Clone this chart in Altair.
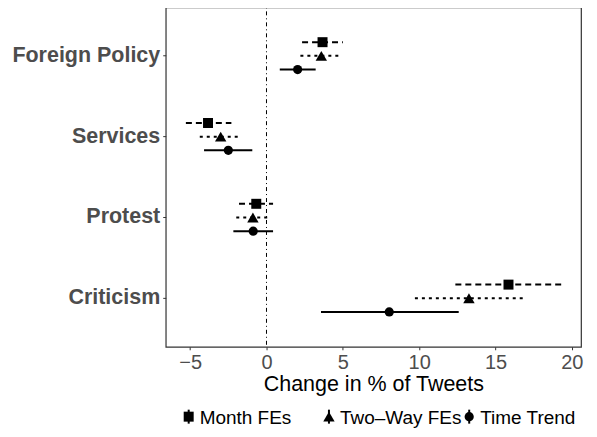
import pandas as pd
import altair as alt

# ── data ─────────────────────────────────────────────────────────────────────

TOPICS = ["Foreign Policy", "Services", "Protest", "Criticism"]
MODELS = ["Month FEs", "Two–Way FEs", "Time Trend"]

MONTH_EST = [3.67, -3.83, -0.67, 15.85]
MONTH_LO  = [2.33, -5.28, -1.80, 12.37]
MONTH_HI  = [5.00, -2.30, 0.43, 19.44]

TWOWAY_EST = [3.59, -3.00, -0.89, 13.26]
TWOWAY_LO  = [2.22, -4.37, -1.98, 9.72]
TWOWAY_HI  = [4.93, -1.63, 0.20, 16.83]

TREND_EST = [2.04, -2.50, -0.87, 8.04]
TREND_LO  = [0.87, -4.09, -2.17, 3.57]
TREND_HI  = [3.22, -0.93, 0.43, 12.59]

X_TICKS = [-5, 0, 5, 10, 15, 20]

# ── style ────────────────────────────────────────────────────────────────────

FONT       = "Liberation Sans"
LABEL_GREY = "#4D4D4D"
FRAME      = "#333333"

SHAPES = ["square", "triangle-up", "circle"]
SIZES  = {MODELS[0]: 100, MODELS[1]: 130, MODELS[2]: 85}
DASHES = [[6, 4], [3, 4], [1, 0]]

rows = []
for model, est, lo, hi in [
    (MODELS[0], MONTH_EST, MONTH_LO, MONTH_HI),
    (MODELS[1], TWOWAY_EST, TWOWAY_LO, TWOWAY_HI),
    (MODELS[2], TREND_EST, TREND_LO, TREND_HI),
]:
    for topic, e, l, h in zip(TOPICS, est, lo, hi):
        rows.append({"topic": topic, "model": model, "line": model, "slot": model,
                     "est": e, "lo": l, "hi": h, "sz": SIZES[model]})
df = pd.DataFrame(rows)

x_scale = alt.Scale(domain=[-6.6, 20.6], nice=False, zero=False)
y_enc = alt.Y(
    "topic:N",
    sort=TOPICS,
    title=None,
    scale=alt.Scale(paddingInner=0, paddingOuter=0.1),
    axis=alt.Axis(
        labelFontSize=21.5, labelFontWeight="bold", labelColor=LABEL_GREY,
        labelFont=FONT, tickColor=FRAME, tickSize=3, labelPadding=3,
        domain=False, grid=False, labelLimit=300,
    ),
)
# blank end slots keep the three estimates close together, as ggplot's dodge does
y_off = alt.YOffset(
    "slot:N",
    scale=alt.Scale(type="point", domain=[""] + MODELS + [" "], padding=0.955),
)

zero_line = (
    alt.Chart(pd.DataFrame({"x": [0]}))
    .mark_rule(color="black", strokeWidth=1, strokeDash=[1, 3, 4, 3])
    .encode(x=alt.X("x:Q", scale=x_scale))
)

bars = (
    alt.Chart(df)
    .mark_rule(color="black", strokeWidth=2)
    .encode(
        x=alt.X(
            "lo:Q",
            scale=x_scale,
            title="Change in % of Tweets",
            axis=alt.Axis(
                values=X_TICKS, format="d", labelFontSize=20, labelColor=LABEL_GREY,
                labelFont=FONT, titleFont=FONT, titleFontSize=21.5,
                titleFontWeight="normal", titleColor="black", titlePadding=1,
                tickColor=FRAME, tickSize=3, labelPadding=3, domain=False, grid=False,
            ),
        ),
        x2="hi:Q",
        y=y_enc,
        yOffset=y_off,
        strokeDash=alt.StrokeDash(
            "line:N",
            scale=alt.Scale(domain=MODELS, range=DASHES),
            legend=None,
        ),
    )
)

points = (
    alt.Chart(df)
    .mark_point(filled=True, color="black", opacity=1)
    .encode(
        x=alt.X("est:Q", scale=x_scale),
        y=y_enc,
        yOffset=y_off,
        size=alt.Size("sz:Q", scale=None),
        shape=alt.Shape(
            "model:N",
            scale=alt.Scale(domain=MODELS, range=SHAPES),
            legend=None,
        ),
    )
)

main = alt.layer(zero_line, bars, points).properties(width=416, height=340)

# ── legend row drawn by hand (shape + short vertical key line + label) ──────

legend_df = pd.DataFrame({"model": MODELS, "sz": [SIZES[m] for m in MODELS]})
legend_x = alt.X(
    "model:N", sort=MODELS, axis=None,
    scale=alt.Scale(type="point", range=[23, 304], padding=0),
)
legend_base = alt.Chart(legend_df).encode(x=legend_x)

key_line = legend_base.mark_rule(color="black", strokeWidth=2).encode(
    y=alt.value(4), y2=alt.value(18)
)
key_symbol = legend_base.mark_point(filled=True, color="black", opacity=1).encode(
    y=alt.value(11),
    size=alt.Size("sz:Q", scale=None),
    shape=alt.Shape("model:N", scale=alt.Scale(domain=MODELS, range=SHAPES), legend=None),
)
key_label = legend_base.mark_text(
    align="left", baseline="middle", dx=11, fontSize=19, font=FONT, color="black"
).encode(y=alt.value(12), text="model:N")

legend_row = (
    alt.layer(key_line, key_symbol, key_label)
    .properties(width=416, height=22, view=alt.ViewBackground(strokeWidth=0, stroke=None))
)

chart = (
    alt.vconcat(main, legend_row, spacing=9)
    .properties(padding={"left": 3, "top": -3, "right": 5, "bottom": 0})
    .configure(font=FONT, background="white")
    .configure_view(stroke=FRAME, strokeWidth=1.2)
)

chart.save("out.html", embed_options={"renderer": "svg", "actions": False})
